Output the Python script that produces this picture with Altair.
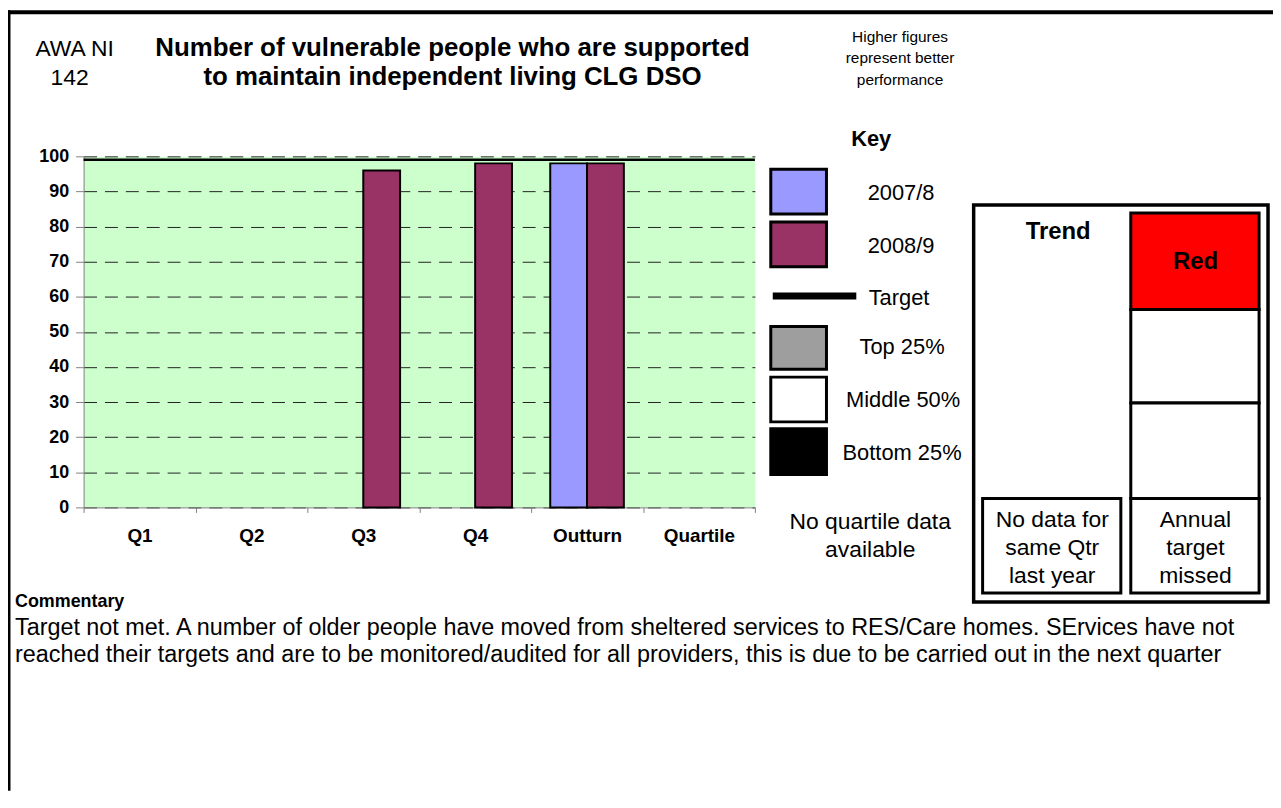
import altair as alt
import pandas as pd

# ---------------- data ----------------
categories = ["Q1", "Q2", "Q3", "Q4", "Outturn", "Quartile"]
series = ["2007/8", "2008/9"]
values_2007_8 = [None, None, None, None, 98, None]
values_2008_9 = [None, None, 96, 98, 98, None]
target_value = 99
y_ticks = [0, 10, 20, 30, 40, 50, 60, 70, 80, 90, 100]
series_colors = ["#9999FF", "#993366"]

rows = []
for s, vals in zip(series, [values_2007_8, values_2008_9]):
    for c, v in zip(categories, vals):
        if v is not None:
            rows.append({"category": c, "series": s, "value": v})
bars_df = pd.DataFrame(rows)

# ---------------- layout helpers ----------------
FONT = "Liberation Sans"
W, H = 675, 353
OX, OY = 84, 155  # page position of the plot origin


def px(x):
    return x - OX


def py(y):
    return y - OY


def one():
    return alt.Data(values=[{}])


def text(label, x, y, size, bold=False, align="center", lh=None):
    kw = dict(text=label, fontSize=size, font=FONT, align=align,
              baseline="alphabetic", color="black",
              fontWeight="bold" if bold else "normal")
    if lh:
        kw["lineHeight"] = lh
    return alt.Chart(one()).mark_text(**kw).encode(
        x=alt.value(px(x)), y=alt.value(py(y)))


def box(x1, y1, x2, y2, fill, sw=3):
    return alt.Chart(one()).mark_rect(fill=fill, stroke="black", strokeWidth=sw).encode(
        x=alt.value(px(x1)), x2=alt.value(px(x2)),
        y=alt.value(py(y1)), y2=alt.value(py(y2)))


def hline(x1, x2, y, sw):
    return alt.Chart(one()).mark_rule(color="black", strokeWidth=sw).encode(
        x=alt.value(px(x1)), x2=alt.value(px(x2)), y=alt.value(py(y)))


def vline(x, y1, y2, sw):
    return alt.Chart(one()).mark_rule(color="black", strokeWidth=sw).encode(
        x=alt.value(px(x)), y=alt.value(py(y1)), y2=alt.value(py(y2)))


# ---------------- main chart ----------------
y_scale = alt.Scale(domain=[0, 100], nice=False)
y_axis = alt.Axis(title=None, values=y_ticks, tickSize=8,
                  tickColor="#808080", domainColor="#808080",
                  labelFont=FONT, labelFontSize=18, labelFontWeight="bold",
                  labelColor="black", labelPadding=7, labelOverlap=False,
                  labelFlush=False,
                  grid=True, gridDash=[13, 8], gridColor="#222222", gridWidth=1)

bars = alt.Chart(bars_df).mark_bar(stroke="black", strokeWidth=2).encode(
    x=alt.X("category:N", sort=categories,
            scale=alt.Scale(domain=categories, paddingInner=0, paddingOuter=0),
            axis=alt.Axis(title=None, tickBand="extent", tickSize=5,
                          tickColor="#808080", domainColor="#808080",
                          labelFont=FONT, labelFontSize=19, labelFontWeight="bold",
                          labelColor="black", labelPadding=29,
                          labelBaseline="alphabetic", labelAngle=0, grid=False)),
    xOffset=alt.XOffset("series:N",
                        scale=alt.Scale(domain=series, paddingOuter=0.52, paddingInner=0)),
    y=alt.Y("value:Q", scale=y_scale, axis=y_axis),
    color=alt.Color("series:N", scale=alt.Scale(domain=series, range=series_colors),
                    legend=None),
)

target_rule = alt.Chart(one()).mark_rule(color="black", strokeWidth=2.5).encode(
    y=alt.YDatum(target_value, scale=y_scale, axis=y_axis))

layers = [bars, target_rule]

# frame
layers += [
    hline(8, 1280, 10, 4),
    vline(9, 8, 793, 3),
]

# headings
layers += [
    text("AWA NI", 75, 54, 23),
    text("142", 70, 83, 23),
    text(["Number of vulnerable people who are supported",
          "to maintain independent living CLG DSO"], 455, 54, 26, bold=True, lh=29),
    text(["Higher figures", "represent better", "performance"], 905, 40, 15.5, lh=21.5),
    text("Key", 876, 145, 22, bold=True),
]

# key
layers += [
    box(775, 168, 831, 213, series_colors[0]),
    text("2007/8", 906, 199, 22),
    box(775, 221, 831, 266, series_colors[1]),
    text("2008/9", 906, 252, 22),
    hline(777, 861, 295.5, 7),
    text("Target", 904, 304, 22),
    box(775, 326, 831, 369, "#9E9E9E"),
    text("Top 25%", 907, 354, 22),
    box(775, 377, 831, 422, "#FFFFFF"),
    text("Middle 50%", 908, 407, 22),
    box(775, 429, 831, 475, "#000000"),
    text("Bottom 25%", 907, 460, 22),
    text(["No quartile data", "available"], 875, 530, 23, lh=28),
]

# trend box
layers += [
    box(979, 204, 1275, 603, "#FFFFFF", sw=3.5),
    text("Trend", 1064, 238, 24, bold=True),
    box(1137, 212, 1266, 309, "#FF0000"),
    text("Red", 1202, 268, 24, bold=True),
    box(1137, 309, 1266, 403, "#FFFFFF"),
    box(1137, 403, 1266, 499, "#FFFFFF"),
    box(1137, 499, 1266, 594, "#FFFFFF"),
    text(["Annual", "target", "missed"], 1202, 528, 23, lh=28),
    box(988, 499, 1127, 594, "#FFFFFF"),
    text(["No data for", "same Qtr", "last year"], 1058, 528, 23, lh=28),
]

# commentary
layers += [
    text("Commentary", 15, 608, 18, bold=True, align="left"),
    text(["Target not met. A number of older people have moved from sheltered services to RES/Care homes. SErvices have not",
          "reached their targets and are to be monitored/audited for all providers, this is due to be carried out in the next quarter"],
         15, 636, 23.5, align="left", lh=27),
]

chart = alt.layer(*layers).properties(
    width=W, height=H,
    autosize=alt.AutoSizeParams(type="none"),
    padding={"left": 76, "top": 147, "right": 521, "bottom": 285},
    background="white",
).configure_view(fill="#CCFFCC", stroke="transparent")

chart.save("out.html", embed_options={"renderer": "svg", "actions": False})
